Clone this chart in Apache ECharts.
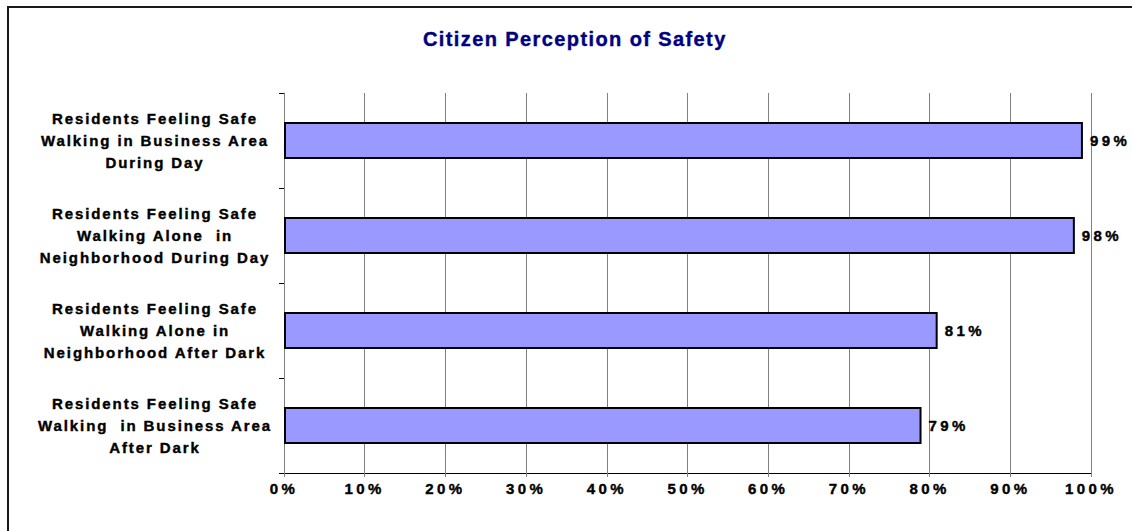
<!DOCTYPE html>
<html>
<head>
<meta charset="utf-8">
<script src="https://cdn.jsdelivr.net/npm/echarts@6/dist/echarts.min.js"></script>
<style>
  html, body { margin: 0; padding: 0; background: #fff; }
  #chart { width: 1132px; height: 531px; }
  /* the original labels are drawn with wide letter spacing */
  #chart text { letter-spacing: 1.9px; }
  #chart text[style*="20px"] { letter-spacing: 1.4px; }
  #chart text[style*="Arial"] { letter-spacing: 3.4px; }
</style>
</head>
<body>
<div id="chart"></div>
<script>
// data
const categories = [
  'Residents Feeling Safe\nWalking in Business Area\nDuring Day',
  'Residents Feeling Safe\nWalking Alone  in\nNeighborhood During Day',
  'Residents Feeling Safe\nWalking Alone in\nNeighborhood After Dark',
  'Residents Feeling Safe\nWalking  in Business Area\nAfter Dark'
]
const values = [99, 98, 81, 79]
const xTicks = [0, 10, 20, 30, 40, 50, 60, 70, 80, 90, 100]

// category labels and title
const font = 'Liberation Sans'
// tick and value labels (same face, wider spacing in css)
const numFont = 'Arial'

const chart = echarts.init(document.getElementById('chart'), null, { renderer: 'svg' })

const option = {
  animation: false,
  backgroundColor: '#fff',
  title: {
    text: 'Citizen Perception of Safety',
    left: 418,
    top: 24,
    textStyle: {
      color: '#000080',
      fontSize: 20,
      fontWeight: 'bold',
      fontFamily: font,
      textBorderColor: '#000080',
      textBorderWidth: 0.4,
    },
  },
  // border round the chart (only top and left are inside the picture)
  graphic: [
    {
      type: 'rect',
      shape: { x: 8, y: 7, width: 1300, height: 700 },
      style: { fill: 'none', stroke: '#1a1a1a', lineWidth: 2 },
      silent: true,
    },
  ],
  grid: {
    left: 284,
    right: 41,
    top: 93,
    bottom: 58,
  },
  xAxis: {
    type: 'value',
    min: xTicks[0],
    max: xTicks[xTicks.length - 1],
    interval: 10,
    axisLine: { show: true, lineStyle: { color: '#000', width: 1 } },
    axisTick: { show: true, length: 4, lineStyle: { color: '#808080' } },
    splitLine: { show: true, lineStyle: { color: '#808080', width: 1 } },
    axisLabel: {
      formatter: '{value}%',
      color: '#000',
      fontSize: 15,
      fontWeight: 'bold',
      fontFamily: numFont,
      margin: 8,
      textBorderColor: '#000',
      textBorderWidth: 0.4,
    },
  },
  yAxis: {
    type: 'category',
    inverse: true,
    data: categories,
    axisLine: { show: true, lineStyle: { color: '#808080', width: 1 } },
    axisTick: { show: true, length: 5, lineStyle: { color: '#000' } },
    splitLine: { show: false },
    axisLabel: {
      align: 'center',
      margin: 129,
      color: '#000',
      fontSize: 15,
      fontWeight: 'bold',
      fontFamily: font,
      lineHeight: 22,
      textBorderColor: '#000',
      textBorderWidth: 0.4,
    },
  },
  series: [
    {
      type: 'bar',
      data: values,
      barWidth: 37,
      itemStyle: {
        color: '#9999ff',
        borderColor: '#000',
        borderWidth: 2,
      },
      label: {
        show: true,
        position: 'right',
        distance: 7,
        formatter: '{c}%',
        color: '#000',
        fontSize: 15,
        fontWeight: 'bold',
        fontFamily: numFont,
        textBorderColor: '#000',
        textBorderWidth: 0.4,
      },
    },
  ],
}

chart.setOption(option)
</script>
</body>
</html>
